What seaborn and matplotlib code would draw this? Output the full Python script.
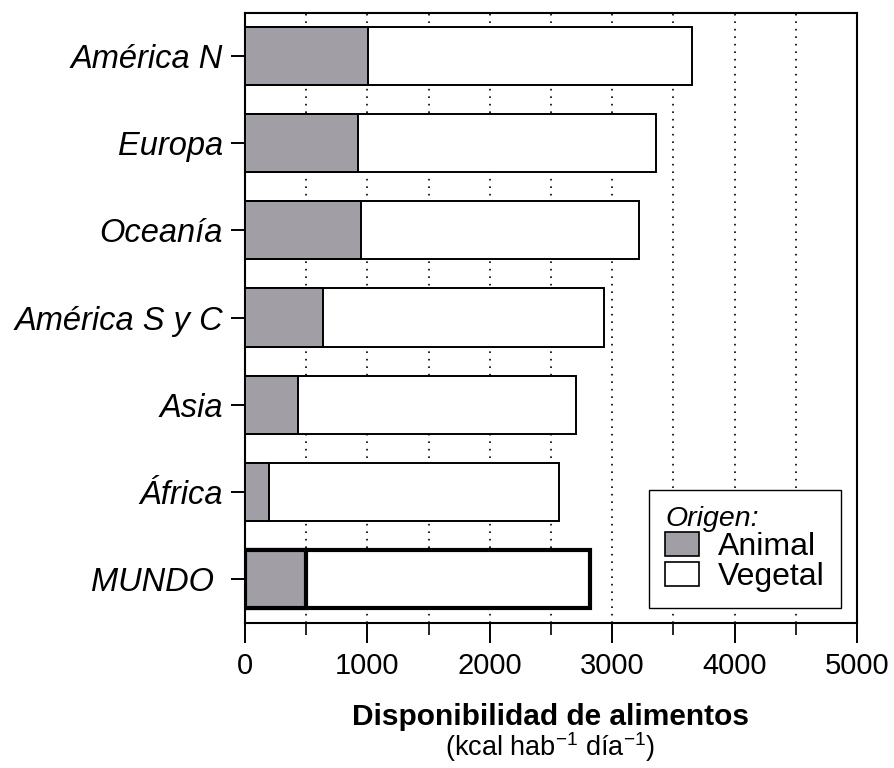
import pandas as pd
import seaborn as sns
import matplotlib.pyplot as plt
from matplotlib.patches import Patch
from matplotlib.ticker import MultipleLocator

# Disponibilidad de alimentos por region (kcal por habitante y dia)
regions = ["América N", "Europa", "Oceanía", "América S y C", "Asia", "África", "MUNDO "]
animal = [1005, 920, 950, 640, 430, 200, 495]
total = [3655, 3360, 3220, 2935, 2705, 2565, 2815]

sns.set_style("ticks")
plt.rcParams["font.family"] = ["Liberation Sans", "DejaVu Sans"]
plt.rcParams["text.color"] = "black"
plt.rcParams["mathtext.fontset"] = "custom"
plt.rcParams["mathtext.rm"] = "Liberation Sans"
plt.rcParams["mathtext.it"] = "Liberation Sans:italic"

df = pd.DataFrame({"region": regions, "animal": animal, "total": total})

gray = "#a19fa5"

fig = plt.figure(figsize=(8.95, 7.68), dpi=100)
ax = fig.add_axes([245 / 895, 145.5 / 768, 612 / 895, 610 / 768])

# white bar = total (vegetal part shows), gray bar on top = animal
sns.barplot(data=df, y="region", x="total", color="white", saturation=1,
            edgecolor="black", linewidth=1.4, width=0.667, ax=ax, zorder=2)
sns.barplot(data=df, y="region", x="animal", color=gray, saturation=1,
            edgecolor="black", linewidth=1.4, width=0.667, ax=ax, zorder=3)

# MUNDO bar with thick outline
n = len(regions)
ax.patches[n - 1].set_linewidth(3.0)
ax.patches[2 * n - 1].set_linewidth(3.0)

ax.set_xlim(0, 5000)
ax.set_ylim(n - 0.5, -0.5)
ax.xaxis.set_major_locator(MultipleLocator(1000))
ax.xaxis.set_minor_locator(MultipleLocator(500))
ax.set_axisbelow(True)
ax.grid(True, axis="x", which="both", color="black", linewidth=1.2, linestyle=(0, (1, 3.5)))

for s in ax.spines.values():
    s.set_visible(True)
    s.set_linewidth(1.5)
    s.set_color("black")

ax.tick_params(axis="x", which="major", direction="out", length=14.5, width=1.4,
               pad=7, labelsize=21, colors="black")
ax.tick_params(axis="x", which="minor", direction="out", length=8.6, width=1.4)
ax.tick_params(axis="y", direction="out", length=10, width=1.4, pad=6,
               labelsize=23.5, colors="black")
for lab in ax.get_yticklabels():
    lab.set_fontstyle("italic")

ax.set_xlabel("")
ax.set_ylabel("")

fig.text(551 / 895, (768 - 725) / 768, "Disponibilidad de alimentos",
         ha="center", va="baseline", fontsize=21.5, fontweight="bold")
fig.text(550 / 895, (768 - 756) / 768, r"(kcal hab$^{-1}$ día$^{-1}$)",
         ha="center", va="baseline", fontsize=19.5)

handles = [Patch(facecolor=gray, edgecolor="black", linewidth=1.2, label="Animal"),
           Patch(facecolor="white", edgecolor="black", linewidth=1.2, label="Vegetal")]
leg = ax.legend(handles=handles, title="Origen:", loc="lower right",
                bbox_to_anchor=(840.7 / 895, (768 - 608) / 768),
                bbox_transform=fig.transFigure, borderaxespad=0,
                frameon=True, fancybox=False, edgecolor="black", framealpha=1,
                fontsize=23, title_fontproperties={"style": "italic", "size": 20.5},
                alignment="left", handlelength=1.05, handleheight=0.75,
                handletextpad=0.6, labelspacing=0.0, borderpad=0.5)
leg.get_frame().set_linewidth(1.0)

fig.savefig("out.png", dpi=100)
